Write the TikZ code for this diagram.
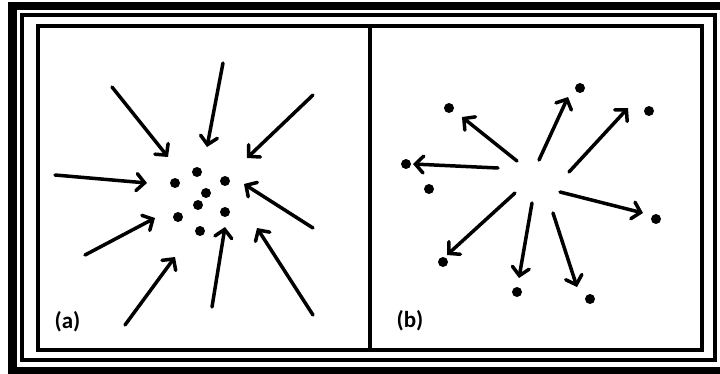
\documentclass[tikz,border=0pt]{standalone}
\usepackage{fontspec}
\setmainfont{Carlito}
\usetikzlibrary{arrows.meta}
\tikzset{
frame/.style={draw=black,line width=4pt},
dot/.style={circle,fill=black,inner sep=0pt,minimum size=10pt},
push/.style={line width=3.5pt,line cap=round,
  -{Straight Barb[length=8pt,width=17pt,line cap=round]}},
tag/.style={inner sep=0pt,font=\bfseries\fontsize{23}{23}\selectfont},
}
\begin{document}
\begin{tikzpicture}[x=1pt,y=-1pt]
\useasboundingbox (0,0) rectangle (720,373);
\clip (0,0) rectangle (720,373);
% the frame
\draw[line width=8.5pt] (12.5,6) rectangle (726,371);
\draw[frame] (22,15) rectangle (715,360);
\draw[frame] (37.5,26) rectangle (702,349.5);
\draw[frame] (369.5,26) -- (369.5,349.5);
% (a): the dots
\foreach \n/\x/\y in {1/197/172,2/175/183,3/225/181,4/206/193,
  5/198/205,6/178/217,7/225/212,8/200/231}
  \node[dot] (a-d\n) at (\x,\y) {};
% (a): the arrows
\foreach \n/\tx/\ty/\hx/\hy in {1/112/87/168/157,2/223/63/207/147,
  3/313/95/247/158,4/55/175/147/183,5/313/228/244/184,
  6/85/255/155/218,7/125/325/175/257,8/212/307/225/227,
  9/313/315/257/228}
{
  \coordinate (a-t\n) at (\tx,\ty);
  \coordinate (a-h\n) at (\hx,\hy);
  \draw[push] (a-t\n) -- (a-h\n);
}
\node[tag] (a-tag) at (67.5,322) {(a)};
% (b): the dots
\foreach \n/\x/\y in {1/449/108,2/580/88,3/649/111,4/406/164,
  5/429/189,6/656/219,7/443/262,8/517/292,9/590/299}
  \node[dot] (b-d\n) at (\x,\y) {};
% (b): the arrows
\foreach \n/\tx/\ty/\hx/\hy in {1/517/161/462/117,2/539/160/568/97,
  3/569/172/628/108,4/498/168/413/164,5/560/192/643/213,
  6/515/193/447/255,7/532/203/519/278,8/553/213/577/287}
{
  \coordinate (b-t\n) at (\tx,\ty);
  \coordinate (b-h\n) at (\hx,\hy);
  \draw[push] (b-t\n) -- (b-h\n);
}
\node[tag] (b-tag) at (410,321) {(b)};
\end{tikzpicture}
\end{document}
